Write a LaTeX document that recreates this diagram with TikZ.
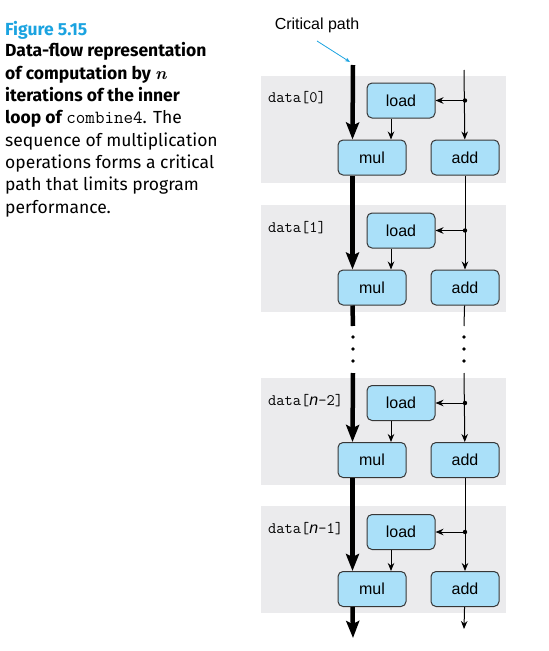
\documentclass[tikz,border=0pt]{standalone}
\usepackage{fontspec}
\newfontfamily\capfont{Fira Sans}
\newfontfamily\labfont{Liberation Sans}
\usetikzlibrary{arrows.meta,positioning}
\definecolor{figblue}{RGB}{27,163,224}
\definecolor{boxblue}{RGB}{170,224,249}
\definecolor{panelgray}{RGB}{235,235,237}
\definecolor{edgegray}{RGB}{55,55,55}

\begin{document}
\begin{tikzpicture}[
  x=1pt, y=-1pt,
  node distance=21pt and 24pt,
  captext/.style={anchor=base west, align=left, inner sep=0pt, font=\capfont\fontsize{17.5}{22.3}\selectfont},
  op/.style={draw=edgegray, fill=boxblue, rounded corners=5pt, line width=1pt, minimum width=68pt, minimum height=35pt, inner sep=0pt, font=\labfont\fontsize{16}{18}\selectfont},
  panel/.style={fill=panelgray, minimum width=245pt, minimum height=107pt, inner sep=0pt},
  datalbl/.style={anchor=west, inner sep=0pt, font=\ttfamily\fontsize{16}{18}\selectfont},
  flow/.style={-{Stealth[length=8pt,width=6.5pt]}, line width=1pt},
  crit/.style={-{Stealth[length=17pt,width=13pt,inset=3pt]}, line width=4.5pt},
  cparrow/.style={-{Stealth[length=5pt,width=4pt]}, draw=figblue, line width=0.8pt}
]
  \useasboundingbox (0,0) rectangle (549,651);

  % caption (base = baseline of the last line)
  \node[captext, text=figblue] (figno) at (5,35) {\bfseries Figure 5.15};
  \node[captext] (cap) at (5,213) {%
    {\bfseries Data-flow representation}\\
    {\bfseries of computation by {\rmfamily\itshape n}}\\
    {\bfseries iterations of the inner}\\
    {\bfseries loop of} {\ttfamily\fontsize{18.5}{22.3}\selectfont combine4}. The\\
    sequence of multiplication\\
    operations forms a critical\\
    path that limits program\\
    performance.};

  % iteration panels
  \node[panel] (pnl0) at (383.5,129.5) {};
  \node[panel] (pnl1) at (383.5,258.5) {};
  \node[panel] (pnl2) at (383.5,431.5) {};
  \node[panel] (pnl3) at (383.5,559.5) {};

  \node[datalbl] (dat0) at (268,98) {data[0]};
  \node[datalbl] (dat1) at (268,228) {data[1]};
  \node[datalbl] (dat2) at (268,401) {data[{\labfont\itshape n}-2]};
  \node[datalbl] (dat3) at (268,529) {data[{\labfont\itshape n}-1]};

  \node[op] (ld0) at (401,100.5) {load};
  \node[op, below=of ld0, xshift=-29pt] (mul0) {mul};
  \node[op, right=of mul0] (add0) {add};

  \node[op] (ld1) at (401,230.5) {load};
  \node[op, below=of ld1, xshift=-29pt] (mul1) {mul};
  \node[op, right=of mul1] (add1) {add};

  \node[op] (ld2) at (401,403) {load};
  \node[op, below=of ld2, xshift=-29pt] (mul2) {mul};
  \node[op, right=of mul2] (add2) {add};

  \node[op] (ld3) at (401,532) {load};
  \node[op, below=of ld3, xshift=-29pt] (mul3) {mul};
  \node[op, right=of mul3] (add3) {add};

  % critical path label
  \node[font=\labfont\fontsize{16}{18}\selectfont] (cp) at (317,25) {Critical path};
  \coordinate (ctop) at (353,65);
  \coordinate (ccut0) at (353,326);
  \coordinate (ccut1) at (353,373);
  \coordinate (cend) at (353,638);
  \coordinate (rtop) at (464,70);
  \coordinate (rcut0) at (464,326);
  \coordinate (rcut1) at (464,373);
  \coordinate (rend) at (464,629);
  \draw[cparrow] ([yshift=-5pt]cp.south) -- ([xshift=-3pt,yshift=3pt]ctop);

  % multiplication chain
  \draw[crit] (ctop) -- ([xshift=15pt]mul0.north west);
  \draw[crit] ([xshift=15pt]mul0.south west) -- ([xshift=15pt]mul1.north west);
  \draw[line width=4.5pt] ([xshift=15pt]mul1.south west) -- (ccut0);
  \draw[crit] (ccut1) -- ([xshift=15pt]mul2.north west);
  \draw[crit] ([xshift=15pt]mul2.south west) -- ([xshift=15pt]mul3.north west);
  \draw[crit] ([xshift=15pt]mul3.south west) -- (cend);

  % pointer chain
  \draw[flow] (rtop) -- (add0);
  \draw[flow] (add0) -- (add1);
  \draw[line width=1pt] (add1) -- (rcut0);
  \draw[flow] (rcut1) -- (add2);
  \draw[flow] (add2) -- (add3);
  \draw[flow] (add3) -- (rend);

  % loads
  \fill (add0 |- ld0) circle (2.2pt);
  \fill (add1 |- ld1) circle (2.2pt);
  \fill (add2 |- ld2) circle (2.2pt);
  \fill (add3 |- ld3) circle (2.2pt);
  \draw[flow] (add0 |- ld0) -- (ld0);
  \draw[flow] (add1 |- ld1) -- (ld1);
  \draw[flow] (add2 |- ld2) -- (ld2);
  \draw[flow] (add3 |- ld3) -- (ld3);
  \draw[flow] ([xshift=-10pt]ld0.south) -- ([xshift=-10pt]ld0.south |- mul0.north);
  \draw[flow] ([xshift=-10pt]ld1.south) -- ([xshift=-10pt]ld1.south |- mul1.north);
  \draw[flow] ([xshift=-10pt]ld2.south) -- ([xshift=-10pt]ld2.south |- mul2.north);
  \draw[flow] ([xshift=-10pt]ld3.south) -- ([xshift=-10pt]ld3.south |- mul3.north);

  % elided iterations
  \fill (ccut0 |- 0,337) circle (1.8pt) (ccut0 |- 0,349) circle (1.8pt) (ccut0 |- 0,361) circle (1.8pt);
  \fill (rcut0 |- 0,337) circle (1.8pt) (rcut0 |- 0,349) circle (1.8pt) (rcut0 |- 0,361) circle (1.8pt);
\end{tikzpicture}
\end{document}
